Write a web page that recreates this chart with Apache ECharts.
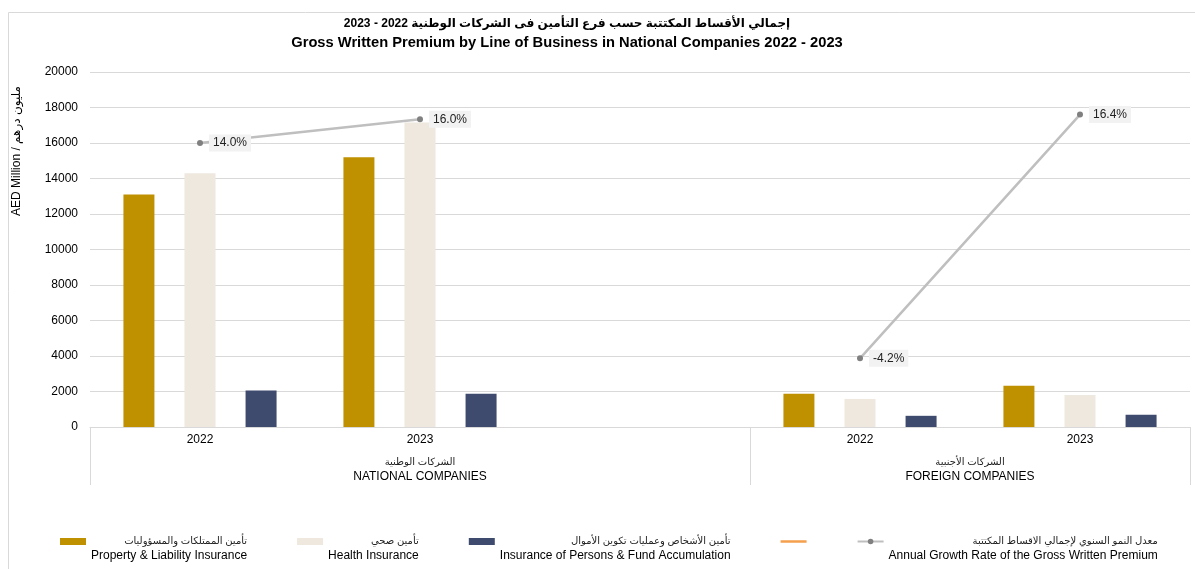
<!DOCTYPE html>
<html>
<head>
<meta charset="utf-8">
<script src="https://cdn.jsdelivr.net/npm/echarts@6/dist/echarts.min.js"></script>
<style>
html, body { margin: 0; padding: 0; background: #fff; }
#main { width: 1195px; height: 569px; }
</style>
</head>
<body>
<div id="main"></div>
<script>
var dom = document.getElementById('main');
var myChart = echarts.init(dom);

var titleAr = 'إجمالي الأقساط المكتتبة حسب فرع التأمين فى الشركات الوطنية 2022 - 2023';
var titleEn = 'Gross Written Premium by Line of Business in National Companies 2022 - 2023';
var yName = 'AED Million / مليون درهم';

// x categories: national 2022, 2023, spacer, foreign 2022, 2023
var years = ['2022', '2023', '', '2022', '2023'];
var groupAr = ['الشركات الوطنية', 'الشركات الأجنبية'];
var groupEn = ['NATIONAL COMPANIES', 'FOREIGN COMPANIES'];
var groupMid = [1.5, 4];
var groupEdges = [0, 3, 5];

var seriesEn = ['Property & Liability Insurance', 'Health Insurance', 'Insurance of Persons & Fund Accumulation', 'blank', 'Annual Growth Rate of the Gross Written Premium'];
var seriesAr = ['تأمين الممتلكات والمسؤوليات', 'تأمين صحي', 'تأمين الأشخاص وعمليات تكوين الأموال', '', 'معدل النمو السنوي لإجمالي الاقساط المكتتبة'];

var property = [13100, 15200, null, 1870, 2330];
var health = [14300, 17150, null, 1580, 1800];
var persons = [2050, 1870, null, 630, 690];
var growth = [14.0, 16.0, null, -4.2, 16.4];

var font = 'Liberation Sans, Arial, DejaVu Sans, sans-serif';

// plain line icon (no marker) for the unlabeled orange legend entry
var lineIcon = 'path://M0,0L26,0L26,0.01L0,0.01Z M0,2.3L26,2.3L26,4.7L0,4.7Z M0,6.99L26,6.99L26,7L0,7Z';

var option = {
    textStyle: { fontFamily: font },
    title: {
        left: 567,
        top: 14,
        padding: 0,
        textAlign: 'center',
        text: '{a|\u202B' + titleAr + '\u202C}\n{b|' + titleEn + '}',
        textStyle: {
            rich: {
                a: { fontSize: 12, fontWeight: 'bold', color: '#000', lineHeight: 19, fontFamily: font },
                b: { fontSize: 14.7, fontWeight: 'bold', color: '#000', lineHeight: 19, fontFamily: font }
            }
        }
    },
    graphic: [{
        type: 'rect',
        z: -1,
        shape: { x: 8.5, y: 12.5, width: 1200, height: 600 },
        style: { fill: 'none', stroke: '#d9d9d9', lineWidth: 1 }
    }, {
        type: 'text',
        x: 17,
        y: 151,
        rotation: Math.PI / 2,
        style: {
            text: yName,
            fontSize: 12,
            fontFamily: font,
            fill: '#000',
            align: 'center',
            verticalAlign: 'middle'
        }
    }],
    legend: {
        left: 55,
        top: 531,
        itemWidth: 26,
        itemHeight: 7,
        itemGap: 50,
        data: [
            { name: seriesEn[0], icon: 'rect' },
            { name: seriesEn[1], icon: 'rect' },
            { name: seriesEn[2], icon: 'rect' },
            { name: seriesEn[3], icon: lineIcon, itemStyle: { color: '#f4a04c' } },
            seriesEn[4]
        ],
        formatter: function (name) {
            var i = seriesEn.indexOf(name);
            if (i === 3) return '';
            return '{a|' + seriesAr[i] + '}\n{b|' + seriesEn[i] + '}';
        },
        textStyle: {
            padding: [14, 0, 0, 0],
            rich: {
                a: { fontSize: 10, lineHeight: 14, align: 'right', color: '#222', fontFamily: font },
                b: { fontSize: 12, lineHeight: 15, align: 'right', color: '#000', fontFamily: font }
            }
        }
    },
    grid: { left: 90, right: 5, top: 72, bottom: 142 },
    xAxis: [{
        type: 'category',
        data: years,
        axisTick: { show: false },
        axisLine: { onZero: false, lineStyle: { color: '#d9d9d9' } },
        axisLabel: { interval: 0, margin: 7, fontSize: 12, color: '#000' }
    }, {
        type: 'value',
        min: 0,
        max: 5,
        position: 'bottom',
        axisLine: { show: false, onZero: false },
        splitLine: { show: false },
        axisTick: { show: true, customValues: groupEdges, length: 58, lineStyle: { color: '#d9d9d9' } },
        axisLabel: {
            customValues: groupMid,
            margin: 28,
            formatter: function (v) {
                var i = groupMid.indexOf(v);
                return '{a|' + groupAr[i] + '}\n{b|' + groupEn[i] + '}';
            },
            rich: {
                a: { fontSize: 10, lineHeight: 14, color: '#222', fontFamily: font },
                b: { fontSize: 12, lineHeight: 15, color: '#000', fontFamily: font }
            }
        }
    }],
    yAxis: [{
        type: 'value',
        min: 0,
        max: 20000,
        interval: 2000,
        axisLine: { show: false },
        axisTick: { show: false },
        axisLabel: { margin: 12, fontSize: 12, color: '#000', formatter: function (v) { return String(v); } },
        splitLine: { lineStyle: { color: '#d9d9d9' } }
    }, {
        type: 'value',
        min: -10,
        max: 20,
        show: false,
        splitLine: { show: false }
    }],
    series: [{
        name: seriesEn[0],
        type: 'bar',
        data: property,
        barWidth: 31,
        barGap: '97%',
        itemStyle: { color: '#bf9000' }
    }, {
        name: seriesEn[1],
        type: 'bar',
        data: health,
        barWidth: 31,
        barGap: '97%',
        itemStyle: { color: '#eee8df' }
    }, {
        name: seriesEn[2],
        type: 'bar',
        data: persons,
        barWidth: 31,
        barGap: '97%',
        itemStyle: { color: '#3f4b6e' }
    }, {
        name: seriesEn[3],
        type: 'line',
        data: [],
        symbol: 'none',
        lineStyle: { color: '#f4a04c', width: 3 },
        itemStyle: { color: '#f4a04c' }
    }, {
        name: seriesEn[4],
        type: 'line',
        yAxisIndex: 1,
        data: growth,
        symbol: 'circle',
        symbolSize: 6,
        connectNulls: false,
        lineStyle: { color: '#bfbfbf', width: 2.5 },
        itemStyle: { color: '#808080' },
        label: {
            show: true,
            position: 'right',
            distance: 6,
            fontSize: 12,
            color: '#222',
            backgroundColor: '#f2f2f2',
            padding: [3, 4, 2, 4],
            formatter: function (p) { return p.value.toFixed(1) + '%'; }
        },
        z: 5
    }]
};

if (option && typeof option === 'object') {
    myChart.setOption(option, true);
}
</script>
</body>
</html>
